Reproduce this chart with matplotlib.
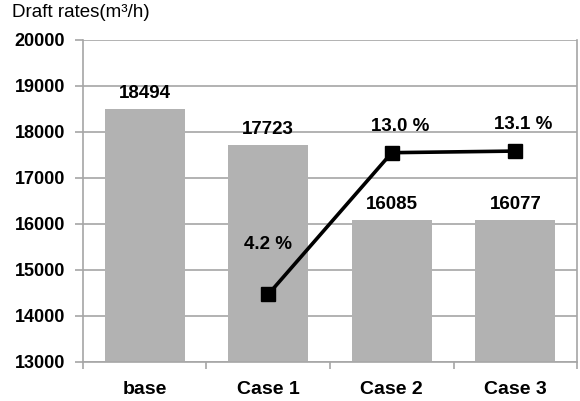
import matplotlib
matplotlib.use("Agg")
import matplotlib.pyplot as plt

categories = ["base", "Case 1", "Case 2", "Case 3"]
draft_rates = [18494, 17723, 16085, 16077]
reduction_cats = ["Case 1", "Case 2", "Case 3"]
reduction_pct = [4.2, 13.0, 13.1]

plt.rcParams["font.family"] = ["Liberation Sans", "DejaVu Sans"]

fig = plt.figure(figsize=(5.8, 4.01), dpi=100)
ax = fig.add_axes([0.143, 0.0973, 0.852, 0.803])

x = list(range(len(categories)))
ax.bar(x, draft_rates, width=0.65, color="#b2b2b2", zorder=2)
for xi, v in zip(x, draft_rates):
    ax.annotate(f"{v}", (xi, v), xytext=(0, 5), textcoords="offset points",
                ha="center", va="bottom", fontsize=13.5, fontweight="bold", zorder=5)

ax.set_ylim(13000, 20000)
ax.set_xlim(-0.5, 3.5)
ax.set_yticks(range(13000, 20001, 1000))
ax.yaxis.grid(True, color="#a6a6a6", linewidth=1.2, zorder=0)
ax.set_xticks(x)
ax.set_xticklabels(categories, fontsize=14, fontweight="bold")
ax.set_xticks([i + 0.5 for i in range(-1, 4)], minor=True)
ax.tick_params(axis="x", which="major", length=0, pad=14)
ax.tick_params(axis="x", which="minor", length=5, color="#a6a6a6", width=1.2)
ax.tick_params(axis="y", length=6, color="#a6a6a6", width=1.2, pad=7)
for lab in ax.get_yticklabels():
    lab.set_fontsize(13)
    lab.set_fontweight("bold")
for side in ["left", "bottom", "right"]:
    ax.spines[side].set_color("#a6a6a6")
    ax.spines[side].set_linewidth(1.2)
ax.spines["top"].set_visible(False)

# Reduction ratio on a hidden secondary scale
ax2 = ax.twinx()
ax2.set_ylim(0, 20)
rx = [categories.index(c) for c in reduction_cats]
ax2.plot(rx, reduction_pct, color="black", linewidth=2.6, marker="s",
         markersize=10, zorder=4)
offsets = [(0, 30), (6, 13), (6, 13)]
for xi, p, off in zip(rx, reduction_pct, offsets):
    ax2.annotate(f"{p:.1f} %", (xi, p), xytext=off, textcoords="offset points",
                 ha="center", va="bottom", fontsize=13.5, fontweight="bold")
ax2.set_yticks([])
ax2.set_xlim(-0.5, 3.5)
for side in ax2.spines.values():
    side.set_visible(False)

fig.text(0.02, 0.99, "Draft rates(m³/h)", ha="left", va="top", fontsize=13.5)

fig.savefig("out.png", dpi=100)
